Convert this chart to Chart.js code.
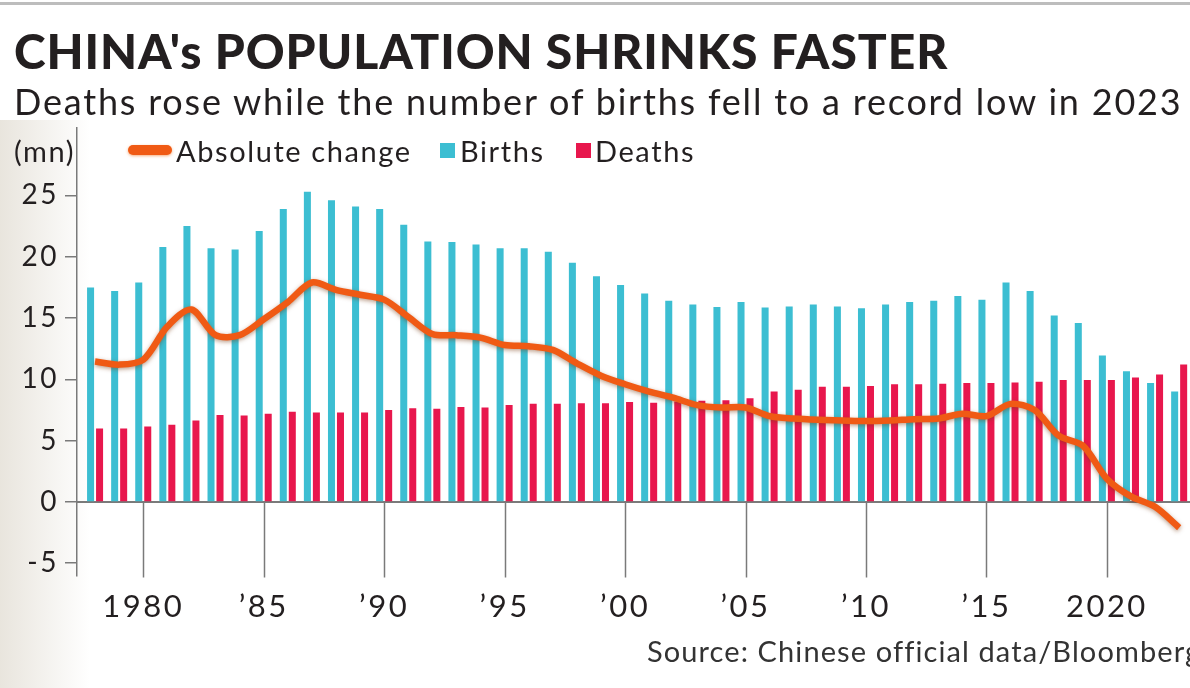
<!DOCTYPE html>
<html>
<head>
<meta charset="utf-8">
<script src="https://cdn.jsdelivr.net/npm/chart.js@4.4.1/dist/chart.umd.min.js"></script>
<style>
    html, body { margin: 0; padding: 0; background: #fff; }
    body { width: 1190px; height: 688px; position: relative; overflow: hidden; font-family: 'Lato', sans-serif; color: #231f20; }
    .topRule { position: absolute; left: 0; top: 2px; width: 1190px; height: 3px; background: #bdbdbd; }
    .photo { position: absolute; left: 0; top: 120px; width: 90px; height: 568px;
             background: linear-gradient(to right, rgba(205, 197, 180, 0.45), rgba(255, 255, 255, 0)); }
    .txt { position: absolute; white-space: nowrap; line-height: 1; }
    #title { left: 14px; top: 27px; font-size: 48px; font-weight: 900; letter-spacing: 0.9px; }
    #subtitle { left: 14px; top: 83px; font-size: 36px; letter-spacing: 1.8px; }
    .legend { font-size: 29px; top: 136px; letter-spacing: 1.6px; }
    .swatch { position: absolute; }
    #source { left: 647px; top: 636px; font-size: 29px; color: #333; letter-spacing: 1.1px; }
    #chartWrap { position: absolute; left: 0; top: 0; width: 1190px; height: 688px; }
</style>
</head>
<body>
<div class="topRule"></div>
<div class="photo"></div>
<div id="chartWrap"><canvas id="popChart"></canvas></div>
<div class="txt" id="title">CHINA's POPULATION SHRINKS FASTER</div>
<div class="txt" id="subtitle">Deaths rose while the number of births fell to a record low in 2023</div>
<div class="txt legend" style="left:14px">(mn)</div>
<div class="swatch" style="left:128px; top:145px; width:44px; height:10px; border-radius:5px; background:#f05a14; box-shadow:0 1px 3px rgba(240,120,40,0.6);"></div>
<div class="txt legend" style="left:176px">Absolute change</div>
<div class="swatch" style="left:440px; top:143px; width:15px; height:15px; background:#3cbed2;"></div>
<div class="txt legend" style="left:460px">Births</div>
<div class="swatch" style="left:576px; top:143px; width:15px; height:15px; background:#e8174d;"></div>
<div class="txt legend" style="left:595px">Deaths</div>
<div class="txt" id="source">Source: Chinese official data/Bloomberg</div>

<script>
// Data (millions)
const YEARS = [1978, 1979, 1980, 1981, 1982, 1983, 1984, 1985, 1986, 1987, 1988, 1989,
    1990, 1991, 1992, 1993, 1994, 1995, 1996, 1997, 1998, 1999,
    2000, 2001, 2002, 2003, 2004, 2005, 2006, 2007, 2008, 2009,
    2010, 2011, 2012, 2013, 2014, 2015, 2016, 2017, 2018, 2019,
    2020, 2021, 2022, 2023];
const BIRTHS = [17.5, 17.2, 17.9, 20.8, 22.5, 20.7, 20.6, 22.1, 23.9, 25.3, 24.6, 24.1,
    23.9, 22.6, 21.25, 21.2, 21.0, 20.7, 20.7, 20.4, 19.5, 18.4,
    17.7, 17.0, 16.4, 16.1, 15.9, 16.3, 15.85, 15.95, 16.1, 15.95,
    15.8, 16.1, 16.3, 16.4, 16.8, 16.5, 17.9, 17.2, 15.2, 14.6,
    11.95, 10.65, 9.7, 9.0];
const DEATHS = [6.0, 6.0, 6.15, 6.3, 6.65, 7.1, 7.05, 7.2, 7.35, 7.3, 7.3, 7.3,
    7.5, 7.65, 7.6, 7.75, 7.7, 7.9, 8.0, 8.0, 8.05, 8.05,
    8.15, 8.1, 8.2, 8.25, 8.3, 8.45, 9.0, 9.15, 9.4, 9.4,
    9.45, 9.6, 9.6, 9.65, 9.7, 9.7, 9.75, 9.8, 9.95, 9.95,
    9.95, 10.15, 10.4, 11.2];
const ABS_CHANGE = [11.45, 11.2, 11.6, 14.3, 15.7, 13.6, 13.6, 14.9, 16.3, 17.9, 17.3, 16.9,
    16.5, 15.1, 13.7, 13.6, 13.4, 12.8, 12.7, 12.4, 11.3, 10.3,
    9.6, 9.0, 8.5, 7.9, 7.7, 7.7, 7.0, 6.8, 6.7, 6.65,
    6.6, 6.65, 6.75, 6.8, 7.2, 7.0, 8.0, 7.5, 5.4, 4.6,
    1.9, 0.45, -0.4, -2.1];
const X_TICKS = [1980, 1985, 1990, 1995, 2000, 2005, 2010, 2015, 2020];
const Y_TICKS = [-5, 0, 5, 10, 15, 20, 25];

const AXIS_GREY = '#7a7a7a';
const TICK_SPACING = '2.5px';

function toPoints(values) {
    return YEARS.map((year, i) => ({ x: year, y: values[i] }));
}

function yearLabel(value) {
    if (value === 1980 || value === 2020) return String(value);
    return '\u2019' + String(value).slice(2);
}

// wider tick lettering (canvas state is reset whenever the canvas is resized)
const tickSpacing = {
    id: 'tickSpacing',
    beforeLayout: (chart) => { chart.ctx.letterSpacing = TICK_SPACING; },
    beforeDraw: (chart) => { chart.ctx.letterSpacing = TICK_SPACING; }
};

// zero line + year ticks hanging below it
const axisDecor = {
    id: 'axisDecor',
    beforeDatasetsDraw: (chart) => {
        const { ctx, chartArea: { left, right, bottom }, scales: { x, y } } = chart;
        const zeroY = y.getPixelForValue(0);
        ctx.save();
        ctx.strokeStyle = AXIS_GREY;
        ctx.lineWidth = 1.5;
        X_TICKS.forEach(year => {
            const px = Math.round(x.getPixelForValue(year)) + 0.5;
            ctx.beginPath();
            ctx.moveTo(px, zeroY);
            ctx.lineTo(px, bottom + 2);
            ctx.stroke();
        });
        ctx.lineWidth = 2;
        ctx.beginPath();
        ctx.moveTo(left, zeroY);
        ctx.lineTo(right, zeroY);
        ctx.stroke();
        ctx.restore();
    }
};

// soft shadow under the orange line
const lineShadow = {
    id: 'lineShadow',
    beforeDatasetDraw: (chart, args) => {
        if (args.meta.type !== 'line') return;
        const ctx = chart.ctx;
        ctx.save();
        ctx.shadowColor = 'rgba(120, 60, 20, 0.5)';
        ctx.shadowBlur = 4;
        ctx.shadowOffsetY = 1.5;
    },
    afterDatasetDraw: (chart, args) => {
        if (args.meta.type !== 'line') return;
        chart.ctx.restore();
    }
};

const ctx = document.getElementById('popChart').getContext('2d');

new Chart(ctx, {
    type: 'bar',
    data: {
        datasets: [
            {
                label: 'Births',
                data: toPoints(BIRTHS),
                backgroundColor: '#3cbed2',
                categoryPercentage: 0.747,
                barPercentage: 0.78,
                order: 1
            },
            {
                label: 'Deaths',
                data: toPoints(DEATHS),
                backgroundColor: '#e8174d',
                categoryPercentage: 0.747,
                barPercentage: 0.78,
                order: 1
            },
            {
                type: 'line',
                label: 'Absolute change',
                data: toPoints(ABS_CHANGE),
                borderColor: '#f05a14',
                borderWidth: 6.5,
                tension: 0.3,
                pointRadius: 0,
                fill: false,
                order: 0
            }
        ]
    },
    options: {
        responsive: true,
        maintainAspectRatio: false,
        animation: false,
        layout: { padding: { top: 128, left: 0, right: 0, bottom: 0 } },
        plugins: {
            legend: { display: false },
            tooltip: { enabled: false }
        },
        scales: {
            x: {
                type: 'linear',
                offset: false,
                min: 1977.25,
                max: 2023.45,
                afterFit: (scale) => { scale.height = 112.5; },
                afterBuildTicks: (scale) => {
                    scale.ticks = X_TICKS.map(v => ({ value: v }));
                },
                grid: { display: false, drawTicks: false },
                border: { display: false },
                ticks: {
                    color: '#231f20',
                    padding: 13,
                    font: { family: 'Lato', size: 31 },
                    maxRotation: 0,
                    autoSkip: false,
                    callback: (value) => yearLabel(value)
                }
            },
            y: {
                min: -6,
                max: 30.5,
                afterFit: (scale) => { scale.width = 77; },
                afterBuildTicks: (scale) => {
                    scale.ticks = Y_TICKS.map(v => ({ value: v }));
                },
                grid: {
                    drawOnChartArea: false,
                    drawTicks: true,
                    tickLength: 12,
                    color: AXIS_GREY,
                    lineWidth: 1.5
                },
                border: { display: true, color: AXIS_GREY, width: 1.5 },
                ticks: {
                    color: '#231f20',
                    padding: 6,
                    font: { family: 'Lato', size: 28 }
                }
            }
        }
    },
    plugins: [tickSpacing, axisDecor, lineShadow]
});
</script>
</body>
</html>
